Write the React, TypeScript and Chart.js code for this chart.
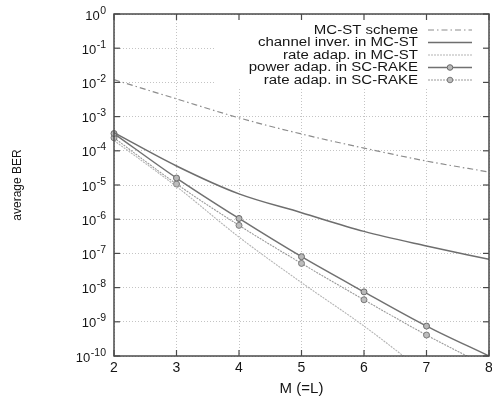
import React, { useEffect, useRef } from 'react';
import { Chart, registerables } from 'chart.js';

Chart.register(...registerables);

// ---- data ----
const mValues = [2, 3, 4, 5, 6, 7, 8];
const xTickValues = [2, 3, 4, 5, 6, 7, 8];
const yTickExponents = [0, -1, -2, -3, -4, -5, -6, -7, -8, -9, -10];

const mcstScheme = [1.2e-2, 3.3e-3, 9.2e-4, 3.1e-4, 1.2e-4, 5.0e-5, 2.4e-5];
const channelInverMcst = [3.4e-4, 3.6e-5, 5.5e-6, 1.55e-6, 4.4e-7, 1.65e-7, 6.7e-8];
const rateAdapMcst = [2.0e-4, 9.0e-6, 3.0e-7, 1.4e-8, 7.5e-10, 3.0e-11, 1.2e-12];
const powerAdapScRake = [3.2e-4, 1.6e-5, 1.05e-6, 8.0e-8, 7.5e-9, 7.5e-10, 1.0e-10];
const rateAdapScRake = [2.4e-4, 1.07e-5, 6.6e-7, 5.1e-8, 4.4e-9, 4.1e-10, 4.7e-11];

const seriesNames = [
  'MC-ST scheme',
  'channel inver. in MC-ST',
  'rate adap. in MC-ST',
  'power adap. in SC-RAKE',
  'rate adap. in SC-RAKE',
];

const xTitle = 'M (=L)';
const yTitle = 'average BER';

const FONT = "'Liberation Sans', Arial, Helvetica, sans-serif";

const pts = (vals: number[]) => vals.map((v, i) => ({ x: mValues[i], y: v }));

const CANVAS_W = 520;
const CANVAS_H = 399;

export default function App() {
  const ref = useRef<HTMLCanvasElement | null>(null);

  useEffect(() => {
    if (!ref.current) return;

    const frameColor = '#4a4a4a';
    const textColor = '#151515';

    const decor = {
      id: 'decor',
      beforeDatasetsDraw(chart: any) {
        const { ctx, chartArea } = chart;
        const { top, right } = chartArea;
        ctx.save();
        ctx.fillStyle = '#ffffff';
        ctx.fillRect(215, top + 1, right - 1 - 215, 87 - top - 1);
        ctx.restore();
      },
      afterDatasetsDraw(chart: any) {
        const { ctx, chartArea } = chart;
        const { left, right, top, bottom } = chartArea;
        const xs = chart.scales.x;
        const ys = chart.scales.y;
        ctx.save();
        ctx.strokeStyle = frameColor;
        ctx.lineWidth = 1.5;
        ctx.strokeRect(left, top, right - left, bottom - top);
        ctx.lineWidth = 1.2;
        const line = (x1: number, y1: number, x2: number, y2: number) => {
          ctx.beginPath();
          ctx.moveTo(x1, y1);
          ctx.lineTo(x2, y2);
          ctx.stroke();
        };
        const tl = 6;
        xTickValues.forEach((v) => {
          const px = xs.getPixelForValue(v);
          line(px, bottom, px, bottom - tl);
          line(px, top, px, top + tl);
        });

        // y tick labels: 10 with superscript exponent
        const labelRight = 106;
        yTickExponents.forEach((e) => {
          const py = ys.getPixelForValue(Math.pow(10, e));
          line(left, py, left + tl, py);
          line(right, py, right - tl, py);
          ctx.save();
          ctx.fillStyle = textColor;
          ctx.textBaseline = 'alphabetic';
          ctx.textAlign = 'left';
          ctx.font = `10.5px ${FONT}`;
          const expText = String(e);
          const ew = ctx.measureText(expText).width;
          ctx.font = `13px ${FONT}`;
          const bw = ctx.measureText('10').width;
          const x0 = labelRight - ew - bw - 0.5;
          ctx.fillText('10', x0, py + 5.5);
          ctx.font = `10.5px ${FONT}`;
          ctx.fillText(expText, x0 + bw + 0.5, py - 0.5);
          ctx.restore();
        });

        // legend
        const textRight = 418;
        const sx1 = 428;
        const sx2 = 472;
        chart.data.datasets.forEach((ds: any, i: number) => {
          const y = 30 + i * 12.5;
          ctx.save();
          ctx.translate(textRight, y);
          ctx.scale(1.25, 1);
          ctx.font = `12px ${FONT}`;
          ctx.fillStyle = textColor;
          ctx.textAlign = 'right';
          ctx.textBaseline = 'middle';
          ctx.fillText(ds.label, 0, 0.5);
          ctx.restore();

          ctx.save();
          ctx.strokeStyle = ds.borderColor;
          ctx.lineWidth = ds.borderWidth;
          ctx.setLineDash(ds.borderDash || []);
          line(sx1, y, sx2, y);
          ctx.restore();
          if (ds.showMarker) {
            ctx.save();
            ctx.beginPath();
            ctx.arc((sx1 + sx2) / 2, y, 2.8, 0, Math.PI * 2);
            ctx.fillStyle = ds.pointBackgroundColor;
            ctx.fill();
            ctx.strokeStyle = ds.pointBorderColor;
            ctx.lineWidth = 1;
            ctx.stroke();
            ctx.restore();
          }
        });
        ctx.restore();
      },
    };

    const clipArea = { left: 5, top: 0, right: 0, bottom: 0 };
    const markerRadius = [3, 3, 3, 3, 3, 3, 0];

    const chart = new Chart(ref.current, {
      type: 'line',
      data: {
        datasets: [
          {
            label: seriesNames[0],
            data: pts(mcstScheme),
            borderColor: '#8c8c8c',
            borderWidth: 1.2,
            borderDash: [6, 3, 1.5, 3],
            pointRadius: 0,
            cubicInterpolationMode: 'monotone',
            clip: clipArea,
          },
          {
            label: seriesNames[1],
            data: pts(channelInverMcst),
            borderColor: '#6e6e6e',
            borderWidth: 1.5,
            pointRadius: 0,
            cubicInterpolationMode: 'monotone',
            clip: clipArea,
          },
          {
            label: seriesNames[2],
            data: pts(rateAdapMcst),
            borderColor: '#b4b4b4',
            borderWidth: 1.1,
            borderDash: [2, 1],
            pointRadius: 0,
            cubicInterpolationMode: 'monotone',
            clip: clipArea,
          },
          {
            label: seriesNames[3],
            data: pts(powerAdapScRake),
            borderColor: '#717171',
            borderWidth: 1.5,
            pointRadius: markerRadius,
            pointBackgroundColor: '#b8b8b8',
            pointBorderColor: '#6a6a6a',
            pointBorderWidth: 1,
            showMarker: true,
            cubicInterpolationMode: 'monotone',
            clip: clipArea,
          },
          {
            label: seriesNames[4],
            data: pts(rateAdapScRake),
            borderColor: '#9a9a9a',
            borderWidth: 1.1,
            borderDash: [2, 1],
            pointRadius: markerRadius,
            pointBackgroundColor: '#bdbdbd',
            pointBorderColor: '#7a7a7a',
            pointBorderWidth: 1,
            showMarker: true,
            cubicInterpolationMode: 'monotone',
            clip: clipArea,
          },
        ] as any,
      },
      options: {
        animation: false,
        responsive: false,
        maintainAspectRatio: false,
        devicePixelRatio: 1,
        layout: { padding: { left: 0, top: 14, right: CANVAS_W - 489, bottom: 0 } },
        plugins: {
          legend: { display: false },
          tooltip: { enabled: false },
        },
        scales: {
          x: {
            type: 'linear',
            min: 2,
            max: 8,
            afterBuildTicks: (s: any) => {
              s.ticks = xTickValues.map((v) => ({ value: v }));
            },
            afterFit: (s: any) => {
              s.height = 43;
            },
            ticks: {
              autoSkip: false,
              maxRotation: 0,
              padding: 4,
              color: textColor,
              font: { family: FONT, size: 14 },
              callback: (v: any) => String(v),
            },
            grid: { color: '#c4c4c4', lineWidth: 1, drawTicks: false },
            border: { display: false, dash: [1, 2] },
            title: {
              display: true,
              text: xTitle,
              color: textColor,
              font: { family: FONT, size: 15 },
              padding: { top: 0, bottom: 1 },
            },
          },
          y: {
            type: 'logarithmic',
            min: 1e-10,
            max: 1,
            afterBuildTicks: (s: any) => {
              s.ticks = yTickExponents.map((e) => ({ value: Math.pow(10, e) }));
            },
            afterFit: (s: any) => {
              s.width = 114;
            },
            ticks: { display: false, autoSkip: false },
            grid: { color: '#c4c4c4', lineWidth: 1, drawTicks: false },
            border: { display: false, dash: [1, 2] },
            title: {
              display: true,
              text: yTitle,
              color: textColor,
              font: { family: FONT, size: 12 },
              padding: { top: 10, bottom: 0 },
            },
          },
        },
      },
      plugins: [decor],
    } as any);

    return () => chart.destroy();
  }, []);

  return (
    <div
      style={{
        position: 'fixed',
        left: 0,
        top: 0,
        width: 492,
        height: 399,
        overflow: 'hidden',
        background: '#ffffff',
      }}
    >
      <canvas
        ref={ref}
        width={CANVAS_W}
        height={CANVAS_H}
        style={{ width: CANVAS_W, height: CANVAS_H, display: 'block' }}
      />
    </div>
  );
}
